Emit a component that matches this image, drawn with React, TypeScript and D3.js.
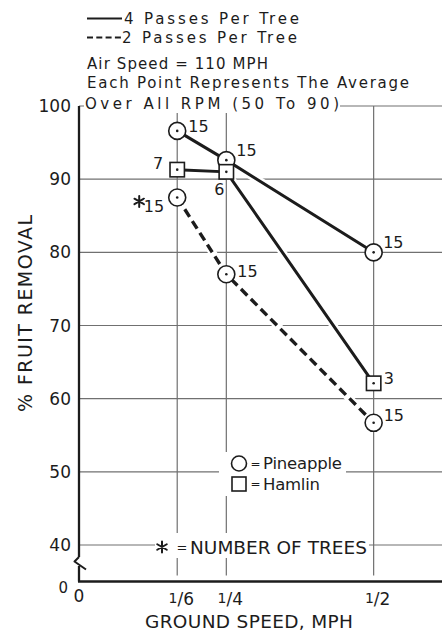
import React from 'react';
import * as d3 from 'd3';

// ---- data ----
const groundSpeeds = [1 / 6, 1 / 4, 1 / 2];
const speedTickNumerators = ['1', '1', '1'];
const speedTickDenominators = ['6', '4', '2'];
const yTickValues = [100, 90, 80, 70, 60, 50, 40];

const pineapple4 = [96.6, 92.6, 80.0];
const hamlin4 = [91.3, 91.0, 62.1];
const pineapple2 = [87.5, 77.0, 56.7];

const pineapple4Trees = [15, 15, 15];
const hamlin4Trees = [7, 6, 3];
const pineapple2Trees = [15, 15, 15];

const headerLines = [
  '4 Passes Per Tree',
  '2 Passes Per Tree',
  'Air Speed = 110 MPH',
  'Each Point Represents The Average',
  'Over All RPM (50 To 90)',
];

// ---- layout (not data) ----
type Off = { dx: number; dy: number; anchor?: 'start' | 'end' | 'middle'; star?: boolean };
const pineapple4Offsets: Off[] = [
  { dx: 11, dy: -4 },
  { dx: 10, dy: -10 },
  { dx: 9.5, dy: -10 },
];
const hamlin4Offsets: Off[] = [
  { dx: -14, dy: -6, anchor: 'end' },
  { dx: -7, dy: 18, anchor: 'middle' },
  { dx: 10, dy: -5 },
];
const pineapple2Offsets: Off[] = [
  { dx: -13, dy: 9, anchor: 'end', star: true },
  { dx: 11, dy: -3 },
  { dx: 10, dy: -7 },
];

const W = 442;
const H = 632;
const FONT = "'DejaVu Sans', sans-serif";
const INK = '#1c1c1c';
const GRID = '#707070';

const x = d3.scaleLinear().domain([0, 0.616]).range([79, 442]);
const y = d3.scaleLinear().domain([40, 100]).range([545, 106]);
const yZero = 581.5;

type Series = {
  values: number[];
  trees: number[];
  offsets: Off[];
  marker: 'circle' | 'square';
  dashed: boolean;
};
const series: Series[] = [
  { values: pineapple4, trees: pineapple4Trees, offsets: pineapple4Offsets, marker: 'circle', dashed: false },
  { values: hamlin4, trees: hamlin4Trees, offsets: hamlin4Offsets, marker: 'square', dashed: false },
  { values: pineapple2, trees: pineapple2Trees, offsets: pineapple2Offsets, marker: 'circle', dashed: true },
];

const line = d3
  .line<number>()
  .x((_, i) => x(groundSpeeds[i]))
  .y((v) => y(v));

function Asterisk({ cx, cy, r, sw }: { cx: number; cy: number; r: number; sw: number }) {
  const arms = [90, 30, 150].map((a) => {
    const rad = (a * Math.PI) / 180;
    const dx = Math.cos(rad) * r;
    const dy = Math.sin(rad) * r;
    return `M${cx - dx},${cy - dy}L${cx + dx},${cy + dy}`;
  });
  return <path d={arms.join('')} stroke={INK} strokeWidth={sw} fill="none" strokeLinecap="round" />;
}

function Marker({ kind, cx, cy, r }: { kind: 'circle' | 'square'; cx: number; cy: number; r: number }) {
  return (
    <g>
      {kind === 'circle' ? (
        <circle cx={cx} cy={cy} r={r} fill="#fff" stroke={INK} strokeWidth={1.6} />
      ) : (
        <rect x={cx - r} y={cy - r} width={2 * r} height={2 * r} fill="#fff" stroke={INK} strokeWidth={1.6} />
      )}
      <circle cx={cx} cy={cy} r={1.3} fill={INK} />
    </g>
  );
}

export default function App() {
  const halo = { stroke: '#fff', strokeWidth: 3, paintOrder: 'stroke' as const, strokeLinejoin: 'round' as const };
  return (
    <svg
      width={W}
      height={H}
      viewBox={`0 0 ${W} ${H}`}
      style={{ position: 'absolute', left: 0, top: 0, background: '#fff' }}
      fontFamily={FONT}
    >
      <rect x={0} y={0} width={W} height={H} fill="#fff" />

      {/* grid */}
      <g stroke={GRID} strokeWidth={1.2}>
        {yTickValues.map((v) => (
          <line key={'h' + v} x1={x(0)} x2={W} y1={y(v)} y2={y(v)} />
        ))}
        {groundSpeeds.map((s) => (
          <line key={'v' + s} x1={x(s)} x2={x(s)} y1={y(100)} y2={yZero - 6} />
        ))}
      </g>

      {/* white areas behind text blocks */}
      <rect x={84} y={95} width={256} height={18} fill="#fff" />
      <rect x={219} y={452} width={127} height={44} fill="#fff" />
      <rect x={155} y={533} width={214} height={25} fill="#fff" />

      {/* axes */}
      <g stroke={INK} fill="none">
        <line x1={x(0)} x2={x(0)} y1={y(100)} y2={557} strokeWidth={2.3} />
        <path d="M79,557 L74.5,561.5 L86,569.5" strokeWidth={2} strokeLinejoin="round" />
        <line x1={x(0)} x2={x(0)} y1={566} y2={yZero} strokeWidth={2.3} />
        <line x1={x(0) - 1} x2={W} y1={yZero} y2={yZero} strokeWidth={2.6} />
      </g>

      {/* y tick labels */}
      <g fontSize={17} fill={INK} textAnchor="end">
        {yTickValues.map((v) => (
          <text key={'yl' + v} x={71} y={y(v)} dominantBaseline="central">
            {v}
          </text>
        ))}
        <text x={68} y={588} fontSize={15} dominantBaseline="central">
          0
        </text>
      </g>
      <text x={x(0)} y={596} fontSize={17} fill={INK} textAnchor="middle" dominantBaseline="central">
        0
      </text>

      {/* x tick labels */}
      <g fontSize={17} fill={INK}>
        {groundSpeeds.map((s, i) => (
          <text key={'xl' + i} x={x(s) + 4} y={605} textAnchor="middle">
            <tspan fontSize={14} dy={-2}>
              {speedTickNumerators[i]}
            </tspan>
            <tspan dy={2}>/</tspan>
            <tspan>{speedTickDenominators[i]}</tspan>
          </text>
        ))}
      </g>

      {/* axis titles */}
      <text x={145} y={628} fontSize={18.5} fill={INK} textLength={208} lengthAdjust="spacing">
        GROUND SPEED, MPH
      </text>
      <text
        transform="translate(32,313.5) rotate(-90)"
        fontSize={19}
        fill={INK}
        textAnchor="middle"
        textLength={197}
        lengthAdjust="spacing"
      >
        % FRUIT REMOVAL
      </text>

      {/* series lines */}
      {series.map((s, i) => (
        <g key={'ln' + i} fill="none">
          <path d={line(s.values) || ''} stroke="#fff" strokeWidth={8} />
          <path
            d={line(s.values) || ''}
            stroke={INK}
            strokeWidth={s.dashed ? 3.4 : 3}
            strokeDasharray={s.dashed ? '9 5' : undefined}
          />
        </g>
      ))}

      {/* markers */}
      {series.map((s, i) =>
        s.values.map((v, j) => (
          <Marker
            key={`m${i}-${j}`}
            kind={s.marker}
            cx={x(groundSpeeds[j])}
            cy={y(v)}
            r={s.marker === 'circle' ? 8.5 : 7.2}
          />
        ))
      )}

      {/* tree-count labels */}
      {series.map((s, i) =>
        s.values.map((v, j) => {
          const o = s.offsets[j];
          const px = x(groundSpeeds[j]) + o.dx;
          const py = y(v) + o.dy;
          return (
            <g key={`t${i}-${j}`}>
              {o.star && <Asterisk cx={px - 25} cy={py - 5} r={5.5} sw={2} />}
              <text
                x={px}
                y={py}
                fontSize={16}
                fill={INK}
                textAnchor={o.anchor || 'start'}
                dominantBaseline="central"
                {...halo}
              >
                {s.trees[j]}
              </text>
            </g>
          );
        })
      )}

      {/* header legend */}
      <line x1={87} x2={122} y1={18.5} y2={18.5} stroke={INK} strokeWidth={2} />
      <line x1={87} x2={121} y1={37.5} y2={37.5} stroke={INK} strokeWidth={2} strokeDasharray="6 3.3" />
      <g fontSize={15} fill={INK}>
        <text x={124} y={24} textLength={175} lengthAdjust="spacing">
          {headerLines[0]}
        </text>
        <text x={122} y={42.7} textLength={175} lengthAdjust="spacing">
          {headerLines[1]}
        </text>
        <text x={87} y={69} textLength={181} lengthAdjust="spacing">
          {headerLines[2]}
        </text>
        <text x={87} y={87.5} textLength={322} lengthAdjust="spacing">
          {headerLines[3]}
        </text>
        <text x={85} y={108.5} textLength={254} lengthAdjust="spacing">
          {headerLines[4]}
        </text>
      </g>

      {/* variety legend */}
      <circle cx={239} cy={463.5} r={7.5} fill="#fff" stroke={INK} strokeWidth={1.6} />
      <rect x={232} y={477} width={14} height={14} fill="#fff" stroke={INK} strokeWidth={1.6} />
      <g fill={INK}>
        <text x={255.5} y={463.5} fontSize={12} textAnchor="middle" dominantBaseline="central">
          =
        </text>
        <text x={263} y={468.5} fontSize={16.5} textLength={79} lengthAdjust="spacing">
          Pineapple
        </text>
        <text x={255.5} y={484} fontSize={12} textAnchor="middle" dominantBaseline="central">
          =
        </text>
        <text x={263} y={489.5} fontSize={16.5} textLength={57} lengthAdjust="spacing">
          Hamlin
        </text>
      </g>

      {/* number-of-trees note */}
      <Asterisk cx={162} cy={547} r={5.5} sw={2} />
      <text x={182} y={547} fontSize={13} fill={INK} textAnchor="middle" dominantBaseline="central">
        =
      </text>
      <text x={190} y={554} fontSize={18.5} fill={INK} textLength={177} lengthAdjust="spacing">
        NUMBER OF TREES
      </text>
    </svg>
  );
}
